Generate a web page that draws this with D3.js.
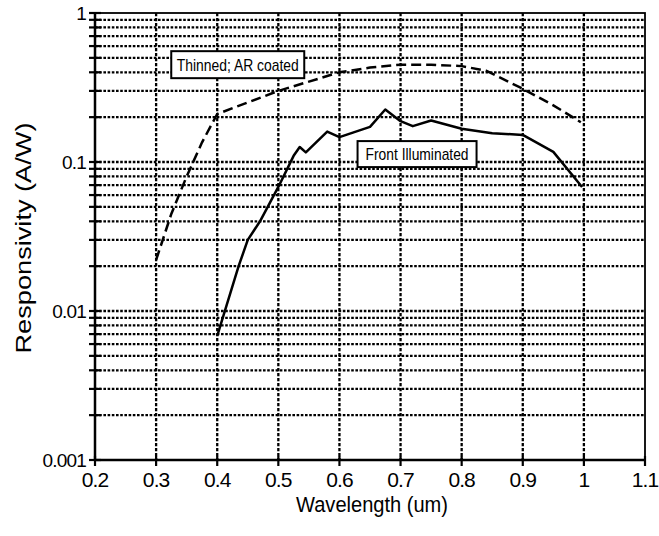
<!DOCTYPE html>
<html>
<head>
<meta charset="utf-8">
<script src="https://cdn.jsdelivr.net/npm/d3@7/dist/d3.min.js"></script>
<style>
  body { margin: 0; background: #fff; }
  text { font-family: "Liberation Sans", Arial, sans-serif; fill: #000; }
</style>
</head>
<body>
<div id="chart"></div>
<script>
// data
var thinnedWave = [0.30, 0.325, 0.35, 0.375, 0.40, 0.50, 0.60, 0.65, 0.70, 0.75, 0.80, 0.84, 0.90, 0.95, 0.995];
var thinnedResp = [0.022, 0.045, 0.08, 0.135, 0.21, 0.30, 0.40, 0.43, 0.45, 0.45, 0.44, 0.41, 0.31, 0.24, 0.185];

var frontWave = [0.40, 0.435, 0.45, 0.47, 0.50, 0.525, 0.535, 0.545, 0.58, 0.60, 0.65, 0.675, 0.70, 0.72, 0.75, 0.80, 0.85, 0.90, 0.95, 0.997];
var frontResp = [0.0068, 0.02, 0.03, 0.04, 0.068, 0.11, 0.126, 0.116, 0.16, 0.147, 0.172, 0.225, 0.188, 0.174, 0.19, 0.167, 0.156, 0.152, 0.117, 0.068];

var xTicks = [0.2, 0.3, 0.4, 0.5, 0.6, 0.7, 0.8, 0.9, 1, 1.1];
var yTicks = [0.001, 0.01, 0.1, 1];
var yTickLabels = ["0.001", "0.01", "0.1", "1"];

(function() {
  var width = 659, height = 536;
  var left = 95, right = 645, top = 13, bottom = 460;

  var svg = d3.select("#chart")
    .append("svg")
    .attr("width", width)
    .attr("height", height);

  var xScale = d3.scaleLinear().domain([0.2, 1.1]).range([left, right]);
  var yScale = d3.scaleLog().domain([0.001, 1]).range([bottom, top]);

  // minor values 2..9 in each decade
  var minor = [];
  [0.001, 0.01, 0.1].forEach(function(d) {
    for (var i = 2; i <= 9; i++) minor.push(d * i);
  });

  // horizontal dotted grid
  svg.selectAll(".hgrid")
    .data(minor.concat([0.01, 0.1]))
    .enter().append("line")
    .attr("x1", left)
    .attr("x2", right)
    .attr("y1", function(d) { return yScale(d); })
    .attr("y2", function(d) { return yScale(d); })
    .attr("stroke", "#000")
    .attr("stroke-width", 2.3)
    .attr("stroke-dasharray", "2.6,1.6");

  // vertical dotted grid
  svg.selectAll(".vgrid")
    .data(xTicks.slice(1, -1))
    .enter().append("line")
    .attr("x1", function(d) { return xScale(d); })
    .attr("x2", function(d) { return xScale(d); })
    .attr("y1", top)
    .attr("y2", bottom)
    .attr("stroke", "#000")
    .attr("stroke-width", 2.3)
    .attr("stroke-dasharray", "3.2,1.8");

  // frame
  svg.append("rect")
    .attr("x", left)
    .attr("y", top)
    .attr("width", right - left)
    .attr("height", bottom - top)
    .attr("fill", "none")
    .attr("stroke", "#000")
    .attr("stroke-width", 1.8);

  svg.append("line")
    .attr("x1", left).attr("x2", left)
    .attr("y1", top).attr("y2", bottom)
    .attr("stroke", "#000").attr("stroke-width", 2.5);
  svg.append("line")
    .attr("x1", left).attr("x2", right)
    .attr("y1", bottom).attr("y2", bottom)
    .attr("stroke", "#000").attr("stroke-width", 2.5);

  // y ticks crossing the axis
  svg.selectAll(".ytick")
    .data(minor.concat(yTicks))
    .enter().append("line")
    .attr("x1", left - 6)
    .attr("x2", left + 6)
    .attr("y1", function(d) { return yScale(d); })
    .attr("y2", function(d) { return yScale(d); })
    .attr("stroke", "#000")
    .attr("stroke-width", 2.2);

  svg.selectAll(".ylabel")
    .data(yTicks)
    .enter().append("text")
    .attr("x", left - 9)
    .attr("y", function(d) { return yScale(d); })
    .attr("dy", "0.36em")
    .attr("text-anchor", "end")
    .attr("font-size", 19)
    .attr("letter-spacing", -0.8)
    .text(function(d, i) { return yTickLabels[i]; });

  // x ticks
  svg.selectAll(".xtick")
    .data(xTicks)
    .enter().append("line")
    .attr("x1", function(d) { return xScale(d); })
    .attr("x2", function(d) { return xScale(d); })
    .attr("y1", bottom - 4)
    .attr("y2", bottom + 6)
    .attr("stroke", "#000")
    .attr("stroke-width", 2.2);

  svg.selectAll(".xlabel")
    .data(xTicks)
    .enter().append("text")
    .attr("x", function(d) { return xScale(d); })
    .attr("y", 487)
    .attr("text-anchor", "middle")
    .attr("font-size", 21)
    .attr("letter-spacing", -0.9)
    .text(function(d) { return d3.format("")(d); });

  // axis titles
  svg.append("text")
    .attr("x", (left + right) / 2 + 2)
    .attr("y", 512)
    .attr("text-anchor", "middle")
    .attr("font-size", 22)
    .attr("textLength", 152)
    .attr("lengthAdjust", "spacingAndGlyphs")
    .text("Wavelength (um)");

  svg.append("text")
    .attr("transform", "translate(31,238) rotate(-90)")
    .attr("text-anchor", "middle")
    .attr("font-size", 22)
    .attr("textLength", 231)
    .attr("lengthAdjust", "spacingAndGlyphs")
    .text("Responsivity (A/W)");

  var line = d3.line()
    .x(function(d) { return xScale(d[0]); })
    .y(function(d) { return yScale(d[1]); });

  svg.append("path")
    .datum(d3.zip(thinnedWave, thinnedResp))
    .attr("d", line)
    .attr("fill", "none")
    .attr("stroke", "#000")
    .attr("stroke-width", 2.5)
    .attr("stroke-dasharray", "10,5");

  svg.append("path")
    .datum(d3.zip(frontWave, frontResp))
    .attr("d", line)
    .attr("fill", "none")
    .attr("stroke", "#000")
    .attr("stroke-width", 2.5)
    .attr("stroke-linejoin", "round");

  // labelled boxes
  var notes = [
    { text: "Thinned; AR coated", x: 0.4336, y: 0.45, w: 133, h: 27, tl: 122 },
    { text: "Front Illuminated", x: 0.727, y: 0.113, w: 119, h: 26, tl: 103 }
  ];

  var note = svg.selectAll(".note")
    .data(notes)
    .enter().append("g")
    .attr("transform", function(d) {
      return "translate(" + xScale(d.x) + "," + yScale(d.y) + ")";
    });

  note.append("rect")
    .attr("x", function(d) { return -d.w / 2; })
    .attr("y", function(d) { return -d.h / 2; })
    .attr("width", function(d) { return d.w; })
    .attr("height", function(d) { return d.h; })
    .attr("fill", "#fff")
    .attr("stroke", "#000")
    .attr("stroke-width", 2);

  note.append("text")
    .attr("text-anchor", "middle")
    .attr("dy", "0.36em")
    .attr("font-size", 17)
    .attr("textLength", function(d) { return d.tl; })
    .attr("lengthAdjust", "spacingAndGlyphs")
    .text(function(d) { return d.text; });
})();
</script>
</body>
</html>
